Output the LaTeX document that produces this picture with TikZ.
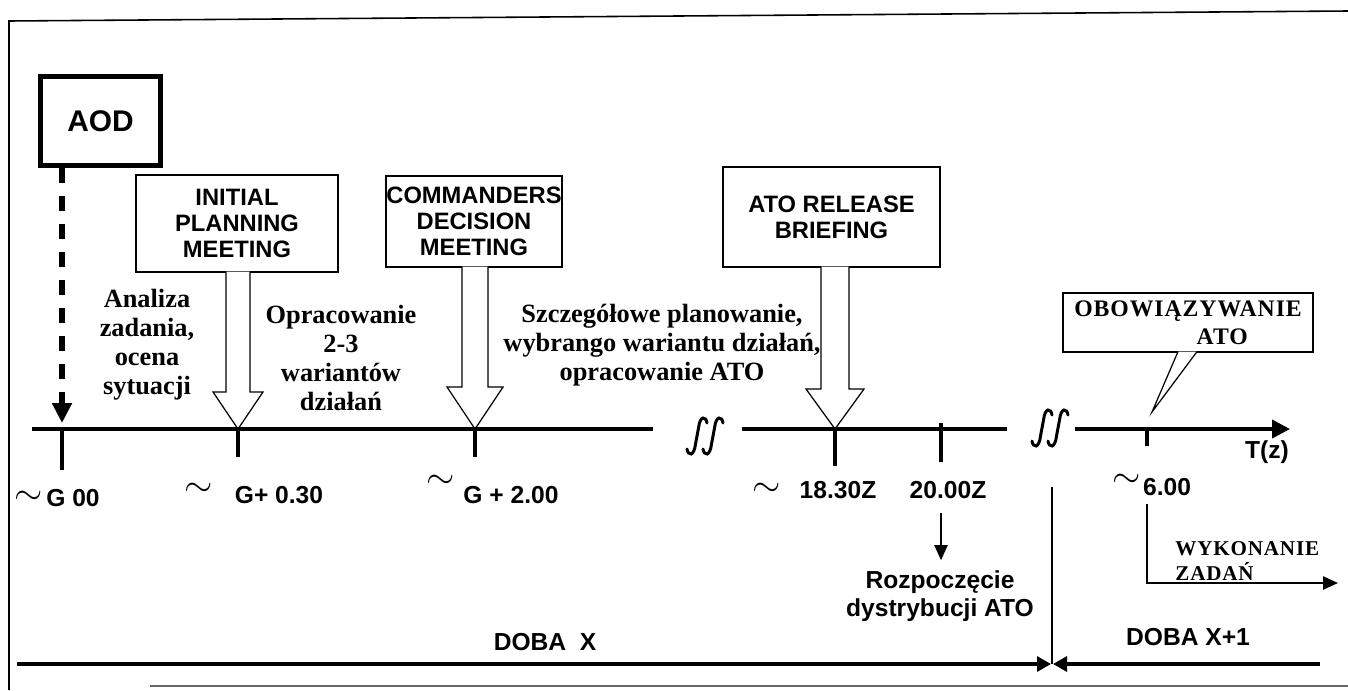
\documentclass[tikz,border=0pt]{standalone}
\usepackage{fontspec}
\setmainfont{Liberation Serif}
\setsansfont{Liberation Sans}
\newfontfamily\spacedserif[LetterSpace=4]{Liberation Serif}
\usetikzlibrary{arrows.meta,calc}

\begin{document}
\begin{tikzpicture}[x=0.02cm,y=-0.02cm,
    lab/.style={inner sep=0pt,font=\sffamily\bfseries\fontsize{14}{16}\selectfont},
    note/.style={inner sep=0pt,align=center,font=\bfseries\fontsize{15}{16.5}\selectfont},
    meetbox/.style={draw,line width=0.7pt,inner sep=0pt,align=center,font=\sffamily\bfseries\fontsize{13.5}{14.8}\selectfont},
    hollow/.style={draw,fill=white,line width=0.7pt},
    axis/.style={line width=2.2pt},
    tick/.style={line width=1.8pt},
    brk/.style={line width=1.7pt,line cap=round},
    sim/.style={inner sep=0pt,font=\fontsize{22}{24}\selectfont},
    tip/.style={-{Triangle[length=0.3cm,width=0.26cm]}}]

    \useasboundingbox (0,0) rectangle (1348,690);

    \draw[line width=0.9pt] (1348,11) -- (9,21) -- (9,690);
    \draw[line width=0.8pt,black!60] (150,686) -- (1348,686);

    \coordinate (t0) at (62,429);
    \coordinate (t1) at (238,429);
    \coordinate (t2) at (475,429);
    \coordinate (t3) at (835,429);
    \coordinate (t4) at (941,429);
    \coordinate (t5) at (1147,429);

    \node[draw,line width=2.8pt,minimum width=2.4cm,minimum height=1.78cm,
          font=\sffamily\bfseries\fontsize{17}{20}\selectfont] (aod) at (100.5,121) {AOD};

    \node[meetbox,minimum width=4.04cm,minimum height=1.94cm] (ipm) at (237,223.5) {INITIAL\\PLANNING\\MEETING};
    \node[meetbox,minimum width=3.52cm,minimum height=1.82cm] (cdm) at (474,221.5) {COMMANDERS\\DECISION\\MEETING};
    \node[meetbox,minimum width=4.34cm,minimum height=2cm] (arb) at (831.5,217) {ATO RELEASE\\BRIEFING};

    \draw[hollow] ($(ipm.south -| t1)+(-12,-1)$) -- ($(t1)+(-12,-37)$) -- ($(t1)+(-25,-37)$) -- (t1)
        -- ($(t1)+(25,-37)$) -- ($(t1)+(12,-37)$) -- ($(ipm.south -| t1)+(12,-1)$);
    \draw[hollow] ($(cdm.south -| t2)+(-13,-1)$) -- ($(t2)+(-13,-42)$) -- ($(t2)+(-28,-42)$) -- (t2)
        -- ($(t2)+(28,-42)$) -- ($(t2)+(13,-42)$) -- ($(cdm.south -| t2)+(13,-1)$);
    \draw[hollow] ($(arb.south -| t3)+(-14,-1)$) -- ($(t3)+(-14,-40)$) -- ($(t3)+(-29,-40)$) -- (t3)
        -- ($(t3)+(29,-40)$) -- ($(t3)+(14,-40)$) -- ($(arb.south -| t3)+(14,-1)$);

    \node[draw,line width=0.7pt,minimum width=5cm,minimum height=1.18cm,inner sep=0pt,align=left,
          font=\spacedserif\bfseries\fontsize{13.5}{15.9}\selectfont] (obow) at (1188,322.5) {OBOWIĄZYWANIE\\\hspace*{2.45cm}ATO};
    \coordinate (ptip) at (1152,412);
    \draw[hollow] ($(obow.south)+(-10,-1)$) -- (ptip) -- ($(obow.south)+(9,-1)$);

    \draw[axis] (32,429) -- (653,429);
    \draw[axis] (742,429) -- (1007,429);
    \draw[axis,-{Triangle[length=0.36cm,width=0.36cm]}] (1075,429) -- (1290,429);

    \draw[tick] (t0) -- ++(0,41);
    \draw[tick] (t1) -- ++(0,28);
    \draw[tick] (t2) -- ++(0,28);
    \draw[tick] (t3) -- ++(0,37);
    \draw[tick] ($(t4)+(0,-6)$) -- ++(0,39);
    \draw[tick] (t5) -- ++(0,17);

    \foreach \bx/\by in {697/436,713/436,1042/428,1058/428}
        \draw[brk] (\bx-10,\by+13) .. controls (\bx-9,\by+20) and (\bx-3,\by+21) .. (\bx-1.5,\by+8)
            -- (\bx+1.5,\by-8) .. controls (\bx+3,\by-21) and (\bx+9,\by-20) .. (\bx+10,\by-13);

    \draw[line width=3pt,dash pattern=on 0.3cm off 0.26cm,-{Triangle[length=0.4cm,width=0.38cm]}]
        (aod.south -| t0) -- ($(t0)+(0,-6)$);

    \node[note] (anal) at (147,345) {Analiza\\zadania,\\ocena\\sytuacji};
    \node[note] (oprac) at (341,358) {Opracowanie\\2-3\\wariantów\\działań};
    \node[note] (szcz) at (662,345) {Szczegółowe planowanie,\\wybrango wariantu działań,\\opracowanie ATO};

    \node[sim] (sim0) at (29,498) {$\sim$};
    \node[lab] (g00) at (73,498) {G 00};
    \node[sim] (sim1) at (199,490) {$\sim$};
    \node[lab] (g030) at (279,495) {G+ 0.30};
    \node[sim] (sim2) at (441,482) {$\sim$};
    \node[lab] (g200) at (511,495) {G + 2.00};
    \node[sim] (sim3) at (767,490) {$\sim$};
    \node[lab] (z1830) at (838,490) {18.30Z};
    \node[lab] (z2000) at (948,490) {20.00Z};
    \node[sim] (sim5) at (1127,481) {$\sim$};
    \node[lab] (six) at (1167,487) {6.00};
    \node[lab] (tz) at (1267,452) {T(z)};

    \node[lab,align=center,font=\sffamily\bfseries\fontsize{14}{15.9}\selectfont] (rozp) at (940,596) {Rozpoczęcie\\dystrybucji ATO};
    \draw[line width=1.2pt,tip] ($(z2000.south -| t4)+(0,14)$) -- ($(rozp.north -| t4)+(0,-10)$);

    \node[inner sep=0pt,anchor=west,align=left,font=\spacedserif\bfseries\fontsize{12}{14.2}\selectfont] (wyk) at (1175,561) {WYKONANIE\\ZADAŃ};
    \coordinate (wend) at (1338,583);
    \draw[line width=1.4pt,tip] ($(six.south -| t5)+(0,8)$) |- (wend);

    \coordinate (split) at (1052,487);
    \coordinate (dayL) at (17,664);
    \coordinate (dayM) at (1052,664);
    \coordinate (dayR) at (1320,664);
    \draw[line width=1.2pt] (split) -- (dayM);
    \draw[line width=1.8pt,-{Triangle[length=0.28cm,width=0.3cm]}] (dayL) -- ($(dayM)+(-1,0)$);
    \draw[line width=1.8pt,-{Triangle[length=0.28cm,width=0.3cm]}] (dayR) -- ($(dayM)+(1,0)$);
    \node[lab] (dobx) at (545,642) {DOBA~~X};
    \node[lab] (dobx1) at (1188,637) {DOBA X+1};
\end{tikzpicture}
\end{document}
